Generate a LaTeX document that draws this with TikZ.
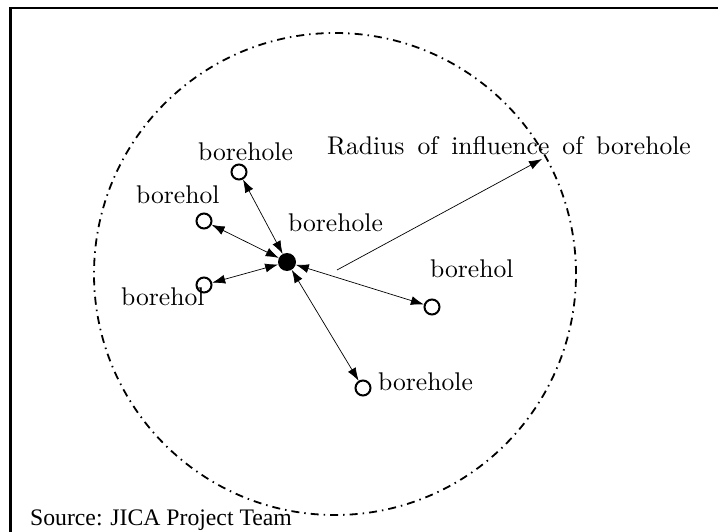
\documentclass[tikz,border=0pt]{standalone}
\usepackage{graphicx}
\usepackage{fontspec}
\newfontfamily\timesfont{Liberation Serif}
\usetikzlibrary{arrows.meta}
\newcommand\bigtxt[1]{\scalebox{2.56}{\fontsize{10}{12}\selectfont #1}}
\begin{document}
\begin{tikzpicture}[x=1pt,y=-1pt,
  lbl/.style={anchor=base west,inner sep=0pt},
  well/.style={circle,draw,line width=2pt,minimum size=15pt,inner sep=0pt},
  mainwell/.style={circle,fill=black,minimum size=18pt,inner sep=0pt},
  arr/.style={line width=0.7pt,{Latex[length=13pt,width=9pt]}-{Latex[length=13pt,width=9pt]}},
  rarr/.style={line width=0.7pt,-{Latex[length=13pt,width=9pt]}},
  zonestyle/.style={circle,draw,line width=1.8pt,inner sep=0pt,minimum size=482pt,
    dash pattern=on 8pt off 5pt on 1.5pt off 5pt}]
\useasboundingbox (0,0) rectangle (718,532);
\draw[line width=2.3pt] (10.5,532) -- (10.5,8) -- (718,8);
\node[zonestyle] (zone) at (335,274) {};
% labels
\node[lbl] (t1) at (198,161) {\bigtxt{borehole}};
\node[lbl] (t2) at (136,204) {\bigtxt{borehol}};
\node[lbl] (t3) at (288,232) {\bigtxt{borehole}};
\node[lbl] (t4) at (121,305) {\bigtxt{borehol}};
\node[lbl] (t5) at (430,277) {\bigtxt{borehol}};
\node[lbl] (t6) at (378,390) {\bigtxt{borehole}};
\node[lbl] (rad) at (327,155) {\bigtxt{\spaceskip=5.1pt Radius of influence of borehole}};
\node[anchor=base west,inner sep=0pt,font=\timesfont\fontsize{23.7}{28}\selectfont] (src) at (30,525) {Source: JICA Project Team};
% wells
\node[mainwell] (c) at (287,262) {};
\node[well] (w1) at (239,172) {};
\node[well] (w2) at (204,221) {};
\node[well] (w3) at (204,285) {};
\node[well] (w4) at (432,307) {};
\node[well] (w5) at (363,388) {};
\draw[arr] (c) -- (w1);
\draw[arr] (c) -- (w2);
\draw[arr] (c) -- (w3);
\draw[arr] (c) -- (w4);
\draw[arr] (c) -- (w5);
\coordinate (rs) at (337,270);
\coordinate (re) at (542,159);
\draw[rarr] (rs) -- (re);
\end{tikzpicture}
\end{document}
